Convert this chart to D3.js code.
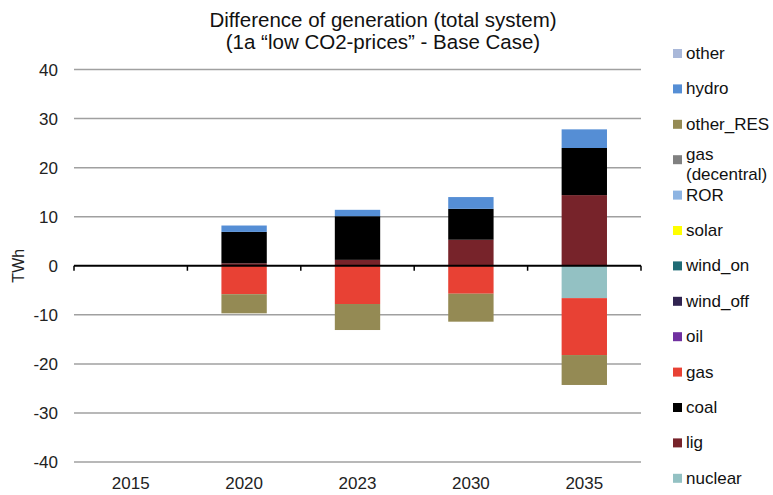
<!DOCTYPE html>
<html><head><meta charset="utf-8">
<script src="https://cdn.jsdelivr.net/npm/d3@7"></script>
<style>body{margin:0;background:#fff}svg{display:block;font-family:"Liberation Sans",Arial,sans-serif}</style>
</head><body><svg id="c" width="773" height="495"></svg>
<script>
const years = ["2015","2020","2023","2030","2035"];
const legendOrder = ["other","hydro","other_RES","gas (decentral)","ROR","solar","wind_on","wind_off","oil","gas","coal","lig","nuclear"];
const colors = ["#a9b8d9","#558ed5","#948a54","#808080","#8db4e2","#ffff00","#1f6b75","#302350","#7030a0","#e84134","#000000","#77232a","#93c1c3"];
const nuclear   = [0, 0, 0, 0, -6.6];
const lig       = [0, 0.5, 1.2, 5.3, 14.4];
const coal      = [0, 6.4, 8.9, 6.3, 9.6];
const gas       = [0, -5.8, -7.8, -5.7, -11.6];
const oil       = [0, 0, 0, 0, 0];
const wind_off  = [0, 0, 0, 0, 0];
const wind_on   = [0, 0, 0, 0, 0];
const solar     = [0, 0, 0, 0, 0];
const ROR       = [0, 0, 0, 0, 0];
const gas_dec   = [0, 0, 0, 0, 0];
const other_RES = [0, -3.9, -5.3, -5.7, -6.1];
const hydro     = [0, 1.3, 1.3, 2.4, 3.8];
const other     = [0, 0, 0, 0, 0];
const yTicks = [-40,-30,-20,-10,0,10,20,30,40];
const title = ["Difference of generation (total system)", "(1a \u201clow CO2-prices\u201d - Base Case)"];

const seriesData = {"nuclear":nuclear,"lig":lig,"coal":coal,"gas":gas,"oil":oil,"wind_off":wind_off,"wind_on":wind_on,"solar":solar,"ROR":ROR,"gas (decentral)":gas_dec,"other_RES":other_RES,"hydro":hydro,"other":other};
const stackKeys = legendOrder.slice().reverse();
const colorOf = {}; legendOrder.forEach((k,i)=>colorOf[k]=colors[i]);
const rows = years.map((y,i)=>{const r={year:y}; stackKeys.forEach(k=>r[k]=seriesData[k][i]); return r;});

const svg = d3.select("#c");
const L=74, R=641, T=69.5, B=462;
const x = d3.scaleBand().domain(years).range([L,R]).paddingInner(0.6).paddingOuter(0.3);
const xb = d3.scaleBand().domain(years).range([L,R]);
const y = d3.scaleLinear().domain([-40,40]).range([B,T]);

// grid
svg.append("g").selectAll("line").data(yTicks.filter(d=>d!==0)).join("line")
  .attr("x1",L).attr("x2",R).attr("y1",d=>y(d)).attr("y2",d=>y(d))
  .attr("stroke","#a0a0a0").attr("stroke-width",1.5);
// tick labels
svg.append("g").selectAll("text").data(yTicks).join("text")
  .attr("x",58).attr("y",d=>y(d)+6).attr("text-anchor","end")
  .attr("font-size",17).attr("fill","#222").text(d=>d);

const stack = d3.stack().keys(stackKeys).offset(d3.stackOffsetDiverging);
const series = stack(rows);
svg.append("g").selectAll("g").data(series).join("g")
  .attr("fill",d=>colorOf[d.key])
  .selectAll("rect").data(d=>d).join("rect")
  .attr("x",d=>x(d.data.year)).attr("width",x.bandwidth())
  .attr("y",d=>y(Math.max(d[0],d[1]))).attr("height",d=>Math.abs(y(d[0])-y(d[1])));

// zero axis
svg.append("line").attr("x1",L).attr("x2",R).attr("y1",y(0)).attr("y2",y(0)).attr("stroke","#000").attr("stroke-width",2);
const bounds = years.map(yv=>xb(yv)).concat([R]);
svg.append("g").selectAll("line").data(bounds).join("line")
  .attr("x1",d=>d).attr("x2",d=>d).attr("y1",y(0)).attr("y2",y(0)+5).attr("stroke","#000").attr("stroke-width",1.5);

// x labels
svg.append("g").selectAll("text").data(years).join("text")
  .attr("x",d=>xb(d)+xb.bandwidth()/2).attr("y",489).attr("text-anchor","middle")
  .attr("font-size",17).attr("fill","#222").text(d=>d);

// y label
svg.append("text").attr("transform",`translate(24,${y(0)}) rotate(-90)`).attr("text-anchor","middle")
  .attr("font-size",16).attr("fill","#222").text("TWh");

// title
svg.append("g").selectAll("text").data(title).join("text")
  .attr("x",383).attr("y",(d,i)=>27+i*22).attr("text-anchor","middle")
  .attr("font-size",20.5).attr("fill","#111").text(d=>d);

// legend
const lg = svg.append("g");
legendOrder.forEach((k,i)=>{
  const cy = 53 + i*35.4;
  lg.append("rect").attr("x",673).attr("y",cy-4).attr("width",9).attr("height",9).attr("fill",colorOf[k]);
  if(k==="gas (decentral)"){
    lg.append("text").attr("x",686).attr("y",cy+1).attr("font-size",17).attr("fill","#111").text("gas");
    lg.append("text").attr("x",686).attr("y",cy+21).attr("font-size",17).attr("fill","#111").text("(decentral)");
  } else {
    lg.append("text").attr("x",686).attr("y",cy+6).attr("font-size",17).attr("fill","#111").text(k);
  }
});
</script></body></html>
